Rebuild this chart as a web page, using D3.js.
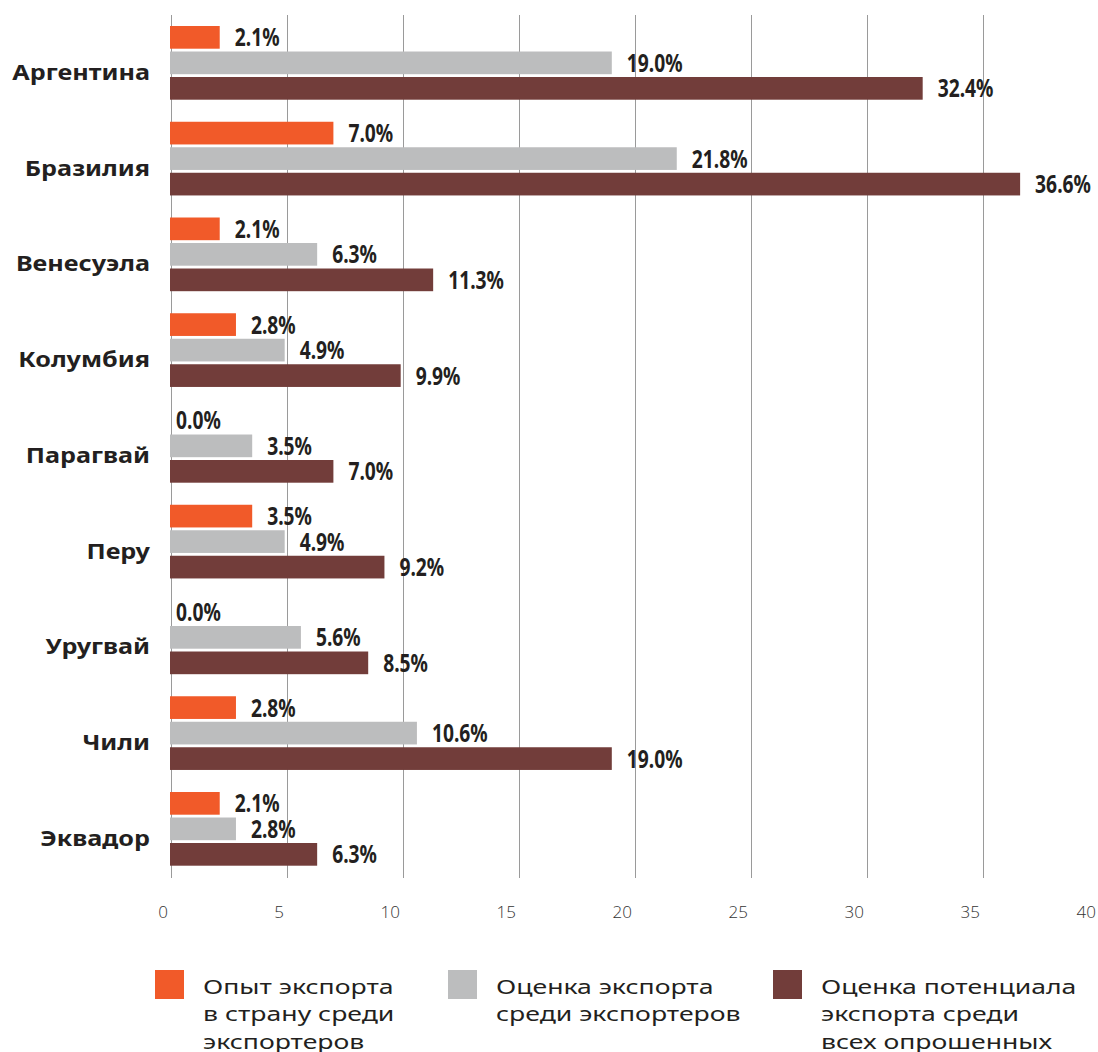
<!DOCTYPE html>
<html>
<head>
<meta charset="utf-8">
<script src="https://cdn.jsdelivr.net/npm/d3@7"></script>
<style>
  body { margin: 0; background: #fff; }
</style>
</head>
<body>
<svg id="chart"></svg>
<script>
const countries = ["Аргентина", "Бразилия", "Венесуэла", "Колумбия", "Парагвай", "Перу", "Уругвай", "Чили", "Эквадор"];
const seriesKeys = ["experience", "estimate", "potential"];
const experience = [2.1, 7.0, 2.1, 2.8, 0.0, 3.5, 0.0, 2.8, 2.1];
const estimate = [19.0, 21.8, 6.3, 4.9, 3.5, 4.9, 5.6, 10.6, 2.8];
const potential = [32.4, 36.6, 11.3, 9.9, 7.0, 9.2, 8.5, 19.0, 6.3];
const xTicks = [0, 5, 10, 15, 20, 25, 30, 35, 40];
const legendLabels = [
  ["Опыт экспорта", "в страну среди", "экспортеров"],
  ["Оценка экспорта", "среди экспортеров"],
  ["Оценка потенциала", "экспорта среди", "всех опрошенных"]
];
const colors = ["#f15a29", "#bcbdbe", "#723d3a"];

function drawChart() {
  const width = 1098;
  const height = 1052;

  const svg = d3.select("#chart")
    .attr("width", width)
    .attr("height", height);

  const seriesValues = [experience, estimate, potential];
  const rows = countries.map((c, i) => ({
    country: c,
    values: seriesKeys.map((k, j) => ({ key: k, value: seriesValues[j][i], idx: j }))
  }));

  const x = d3.scaleLinear().domain([0, 40]).range([171, 1099]);
  const y = d3.scaleBand().domain(countries).range([16, 877.75]).padding(0);
  const yInner = d3.scaleBand().domain(seriesKeys).range([8.6, 85.1])
    .paddingInner(0.11).paddingOuter(0.055);

  // gridlines
  svg.append("g")
    .selectAll("line")
    .data(xTicks)
    .enter()
    .append("line")
    .attr("x1", d => x(d) + 0.5)
    .attr("x2", d => x(d) + 0.5)
    .attr("y1", 15)
    .attr("y2", 878)
    .attr("stroke", "#9a9a9a")
    .attr("stroke-width", 1);

  // x tick labels
  svg.append("g")
    .selectAll("text")
    .data(xTicks)
    .enter()
    .append("text")
    .attr("x", d => x(d) - 3)
    .attr("y", 918)
    .attr("text-anchor", "end")
    .style("font-family", "'Open Sans', 'Noto Sans', sans-serif")
    .style("font-weight", 300)
    .style("font-size", "17px")
    .attr("fill", "#333")
    .text(d => d);

  const groups = svg.append("g")
    .selectAll("g")
    .data(rows)
    .enter()
    .append("g")
    .attr("transform", d => `translate(0, ${y(d.country)})`);

  // country labels (stretched to mimic the wide rounded face)
  groups.append("g")
    .attr("transform", `translate(150, ${yInner("estimate") + yInner.bandwidth() / 2 + 17}) scale(1.2, 1)`)
    .append("text")
    .attr("text-anchor", "end")
    .style("font-family", "'Noto Sans', sans-serif")
    .style("font-weight", 700)
    .style("font-size", "21px")
    .attr("fill", "#231f20")
    .text(d => d.country);

  // bars
  groups.selectAll("rect")
    .data(d => d.values.filter(v => v.value > 0))
    .enter()
    .append("rect")
    .attr("x", x(0) - 1)
    .attr("y", d => yInner(d.key))
    .attr("width", d => x(d.value) - x(0) + 1)
    .attr("height", yInner.bandwidth())
    .attr("fill", d => colors[d.idx]);

  // value labels (condensed)
  groups.selectAll("g.val")
    .data(d => d.values)
    .enter()
    .append("g")
    .attr("class", "val")
    .attr("transform", d => `translate(${x(d.value) + (d.value > 0 ? 15 : 5)}, ${yInner(d.key) + yInner.bandwidth() / 2}) scale(0.77, 1)`)
    .append("text")
    .attr("dy", "0.36em")
    .style("font-family", "'Noto Sans', sans-serif")
    .style("font-weight", 700)
    .style("font-size", "25px")
    .attr("fill", "#231f20")
    .text(d => d.value.toFixed(1) + "%");

  // legend
  const legendX = [155, 448, 773];
  const legend = svg.append("g")
    .selectAll("g")
    .data(legendLabels)
    .enter()
    .append("g")
    .attr("transform", (d, i) => `translate(${legendX[i]}, 970)`);

  legend.append("rect")
    .attr("width", 29)
    .attr("height", 29)
    .attr("fill", (d, i) => colors[i]);

  legend.append("g")
    .attr("transform", "translate(48, 24) scale(1.33, 1)")
    .append("text")
    .style("font-family", "'Noto Sans', sans-serif")
    .style("font-weight", 400)
    .style("font-size", "20px")
    .attr("fill", "#231f20")
    .selectAll("tspan")
    .data(d => d)
    .enter()
    .append("tspan")
    .attr("x", 0)
    .attr("dy", (d, i) => i === 0 ? 0 : 27.5)
    .text(d => d);
}

drawChart();
</script>
</body>
</html>
